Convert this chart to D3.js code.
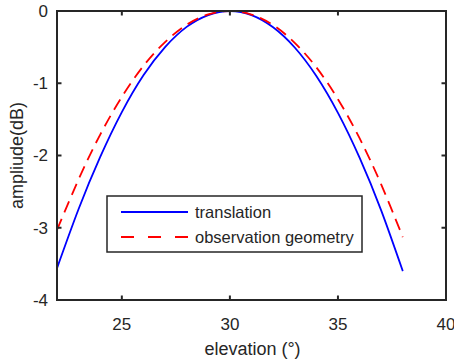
<!DOCTYPE html>
<html>
<head>
<meta charset="utf-8">
<script src="https://cdn.jsdelivr.net/npm/d3@7"></script>
<style>
  body { margin: 0; background: #fff; }
  text { font-family: "Liberation Sans", Arial, sans-serif; fill: #262626; }
</style>
</head>
<body>
<div id="chart"></div>
<script>
// elevation in degrees, amplitude in dB
var elevation = [22, 23, 24, 25, 26, 27, 28, 29, 30, 31, 32, 33, 34, 35, 36, 37, 38];
var translation = [-3.56, -2.74, -2.02, -1.40, -0.89, -0.50, -0.22, -0.056, 0, -0.056, -0.225, -0.505, -0.90, -1.41, -2.03, -2.76, -3.60];
var observation = [-3.03, -2.33, -1.71, -1.19, -0.76, -0.43, -0.19, -0.048, 0, -0.049, -0.195, -0.44, -0.78, -1.22, -1.76, -2.40, -3.13];
var xTicks = [25, 30, 35, 40];
var yTicks = [0, -1, -2, -3, -4];
var legendLabels = ["translation", "observation geometry"];

var width = 454, height = 362;
var margin = {left: 57, top: 11, right: 8, bottom: 62};

var svg = d3.select("#chart").append("svg")
    .attr("width", width)
    .attr("height", height);

var x = d3.scaleLinear().domain([22, 40]).range([margin.left, width - margin.right]);
var y = d3.scaleLinear().domain([-4, 0]).range([height - margin.bottom, margin.top]);

var axisColor = "#262626";
var tickLen = 4.5;

// curves
var line = d3.line()
    .x(function(d, i) { return x(elevation[i]); })
    .y(function(d) { return y(d); })
    .curve(d3.curveNatural);

svg.append("path")
    .datum(translation)
    .attr("d", line)
    .attr("fill", "none")
    .attr("stroke", "#0000ff")
    .attr("stroke-width", 1.8);

svg.append("path")
    .datum(observation)
    .attr("d", line)
    .attr("fill", "none")
    .attr("stroke", "#ff0000")
    .attr("stroke-width", 1.8)
    .attr("stroke-dasharray", "12,7");

// axes box
var x0 = x.range()[0], x1 = x.range()[1], y0 = y.range()[0], y1 = y.range()[1];
svg.append("rect")
    .attr("x", x0).attr("y", y1)
    .attr("width", x1 - x0).attr("height", y0 - y1)
    .attr("fill", "none")
    .attr("stroke", axisColor)
    .attr("stroke-width", 2);

// ticks on all sides, pointing in
xTicks.forEach(function(t) {
    svg.append("line").attr("x1", x(t)).attr("x2", x(t)).attr("y1", y0).attr("y2", y0 - tickLen)
        .attr("stroke", axisColor).attr("stroke-width", 2);
    svg.append("line").attr("x1", x(t)).attr("x2", x(t)).attr("y1", y1).attr("y2", y1 + tickLen)
        .attr("stroke", axisColor).attr("stroke-width", 2);
});
yTicks.forEach(function(t) {
    svg.append("line").attr("x1", x0).attr("x2", x0 + tickLen).attr("y1", y(t)).attr("y2", y(t))
        .attr("stroke", axisColor).attr("stroke-width", 2);
    svg.append("line").attr("x1", x1).attr("x2", x1 - tickLen).attr("y1", y(t)).attr("y2", y(t))
        .attr("stroke", axisColor).attr("stroke-width", 2);
});

// tick labels
svg.selectAll(".xt")
    .data(xTicks)
    .enter().append("text")
    .attr("class", "xt")
    .attr("x", function(d) { return x(d); })
    .attr("y", y0 + 30)
    .attr("text-anchor", "middle")
    .style("font-size", "17px")
    .text(function(d) { return d; });

svg.selectAll(".yt")
    .data(yTicks)
    .enter().append("text")
    .attr("class", "yt")
    .attr("x", x0 - 9)
    .attr("y", function(d) { return y(d); })
    .attr("dy", "0.35em")
    .attr("text-anchor", "end")
    .style("font-size", "17px")
    .text(function(d) { return d; });

// axis labels
svg.append("text")
    .attr("x", (x0 + x1) / 2 + 1)
    .attr("y", height - 7)
    .attr("text-anchor", "middle")
    .style("font-size", "18px")
    .text("elevation (°)");

svg.append("text")
    .attr("transform", "translate(23," + ((y0 + y1) / 2) + ") rotate(-90)")
    .attr("text-anchor", "middle")
    .style("font-size", "18px")
    .text("ampliude(dB)");

// legend
var legend = svg.append("g").attr("transform", "translate(107,196)");
legend.append("rect")
    .attr("width", 255).attr("height", 56)
    .attr("fill", "#fff")
    .attr("stroke", axisColor)
    .attr("stroke-width", 1.5);

var legendColors = ["#0000ff", "#ff0000"];
var legendDash = [null, "13,14"];
var item = legend.selectAll(".item")
    .data(legendLabels)
    .enter().append("g")
    .attr("class", "item")
    .attr("transform", function(d, i) { return "translate(0," + (16 + i * 25) + ")"; });

item.append("line")
    .attr("x1", 14).attr("x2", 81)
    .attr("stroke", function(d, i) { return legendColors[i]; })
    .attr("stroke-width", 1.8)
    .attr("stroke-dasharray", function(d, i) { return legendDash[i]; });

item.append("text")
    .attr("x", 88)
    .attr("dy", "0.35em")
    .style("font-size", "16.5px")
    .text(function(d) { return d; });
</script>
</body>
</html>
